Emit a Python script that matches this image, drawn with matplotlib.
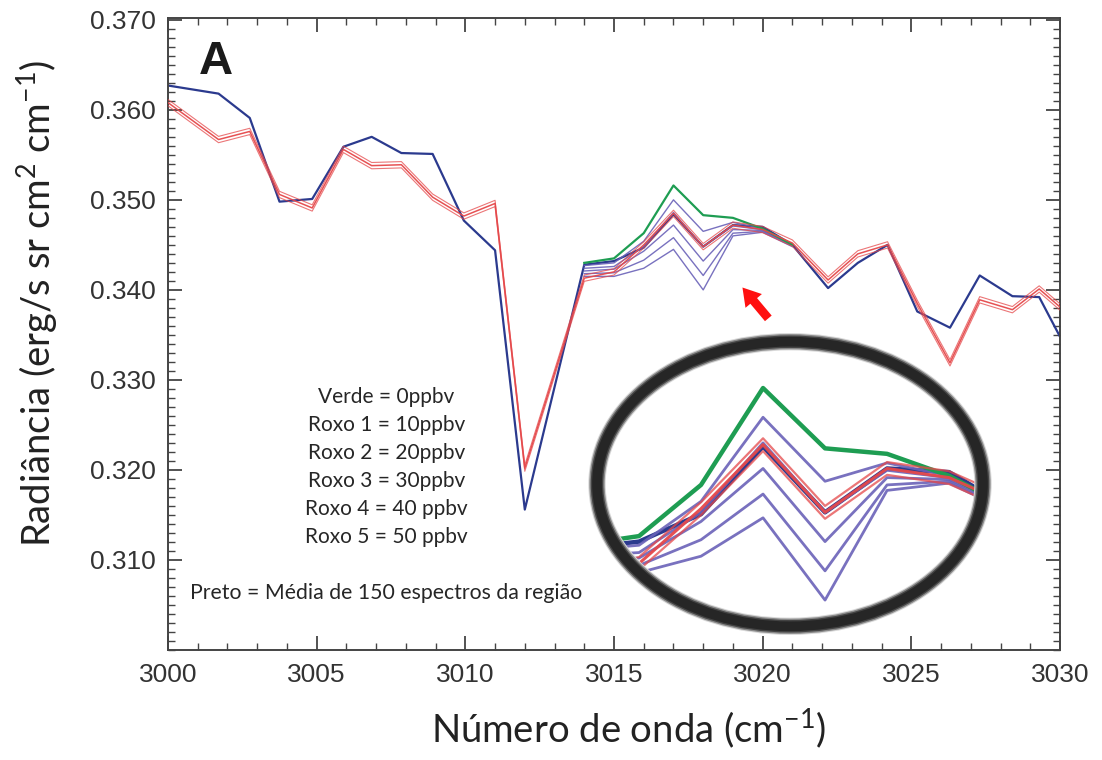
import numpy as np
import matplotlib
matplotlib.use("Agg")
from matplotlib import pyplot as plt
from matplotlib.patches import Ellipse
from matplotlib.ticker import MultipleLocator, FormatStrFormatter

# spectral grid (cm-1) shared by the mean spectrum and the model run
wavenumber = [3000.0, 3001.7, 3002.75, 3003.75, 3004.85, 3005.9, 3006.85, 3007.85,
              3008.9, 3009.95, 3011.0, 3012.0, 3014.0, 3015.0, 3016.0, 3017.0,
              3018.0, 3019.0, 3020.0, 3021.0, 3022.2, 3023.2, 3024.2, 3025.2,
              3026.3, 3027.3, 3028.4, 3029.3, 3030.0]

# mean of 150 observed spectra (drawn in dark blue)
preto = [0.3627, 0.3618, 0.3591, 0.3498, 0.3501, 0.3559, 0.3570, 0.3552,
         0.3551, 0.3477, 0.3444, 0.3156, 0.3428, 0.3432, 0.3447, 0.3484,
         0.3448, 0.3472, 0.3470, 0.3450, 0.3402, 0.3430, 0.3450, 0.3376,
         0.3358, 0.3416, 0.3393, 0.3392, 0.3348]

# simulated radiance, red bundle
modelo = [0.3608, 0.3567, 0.3576, 0.3506, 0.3491, 0.3556, 0.3538, 0.3539,
          0.3503, 0.3482, 0.3496, 0.3202, 0.3413, 0.3420, 0.3450, 0.3485,
          0.3448, 0.3472, 0.3467, 0.3452, 0.3411, 0.3440, 0.3450, 0.3385,
          0.3319, 0.3389, 0.3378, 0.3401, 0.3381]
modelo_spread = [-0.00035, 0.0, 0.00035]

# concentration runs only differ around the ethane band
wn_band = [3014.0, 3015.0, 3016.0, 3017.0, 3018.0, 3019.0, 3020.0, 3021.0]
verde = [0.3430, 0.3435, 0.3463, 0.3516, 0.3483, 0.3480, 0.3468, 0.3450]
roxo = [
    [0.3427, 0.3430, 0.3454, 0.3500, 0.3465, 0.3475, 0.3468, 0.3451],  # 10 ppbv
    [0.3424, 0.3426, 0.3448, 0.3486, 0.3448, 0.3471, 0.3467, 0.3450],  # 20 ppbv
    [0.3421, 0.3423, 0.3443, 0.3472, 0.3432, 0.3467, 0.3466, 0.3450],  # 30 ppbv
    [0.3418, 0.3419, 0.3433, 0.3458, 0.3416, 0.3463, 0.3465, 0.3449],  # 40 ppbv
    [0.3415, 0.3415, 0.3424, 0.3445, 0.3400, 0.3460, 0.3464, 0.3448],  # 50 ppbv
]

legenda = ["Verde = 0ppbv", "Roxo 1 = 10ppbv", "Roxo 2 = 20ppbv",
           "Roxo 3 = 30ppbv", "Roxo 4 = 40 ppbv", "Roxo 5 = 50 ppbv"]

c_navy = "#2b3a8e"
c_red = "#e5484a"
c_green = "#1e9d52"
c_purple = "#6a62b8"

plt.rcParams["mathtext.fontset"] = "custom"
plt.rcParams["mathtext.rm"] = "Lato"
plt.rcParams["mathtext.it"] = "Lato"

W, H = 1102, 760
fig = plt.figure(figsize=[W / 100, H / 100], dpi=100)
ax = fig.add_axes([168 / W, 110 / H, 892 / W, 632 / H])


def draw_lines(a, lw_scale=1.0, clip=None):
    arts = []
    arts += a.plot(wavenumber, preto, color=c_navy, lw=1.6 * lw_scale, zorder=2)
    for r in roxo:
        arts += a.plot(wn_band, r, color=c_purple, lw=1.0 * lw_scale, alpha=0.9, zorder=3)
    arts += a.plot(wn_band, verde, color=c_green, lw=1.6 * lw_scale, zorder=4)
    for d in modelo_spread:
        arts += a.plot(wavenumber, np.array(modelo) + d, color=c_red,
                       lw=(1.1 if d == 0 else 0.8) * lw_scale,
                       alpha=0.95 if d == 0 else 0.75, zorder=5)
    if clip is not None:
        for l in arts:
            l.set_clip_path(clip)
    return arts


draw_lines(ax)

ax.set_xlim(3000, 3030)
ax.set_ylim(0.300, 0.3702)
ax.set_xticks(np.arange(3000, 3031, 5))
ax.set_yticks(np.arange(0.310, 0.3705, 0.010))
ax.xaxis.set_minor_locator(MultipleLocator(1))
ax.yaxis.set_minor_locator(MultipleLocator(0.001))
ax.yaxis.set_major_formatter(FormatStrFormatter("%.3f"))
ax.tick_params(which="both", direction="in", top=True, right=True,
               colors="#444444", labelcolor="#333333")
ax.tick_params(which="major", length=10, width=1.3, labelsize=19, pad=9)
ax.tick_params(which="minor", length=5, width=1.0)
for lab in ax.get_xticklabels() + ax.get_yticklabels():
    lab.set_family("Liberation Sans")
for s in ax.spines.values():
    s.set_color("#444444")
    s.set_linewidth(1.4)

ax.set_ylabel(r"Radiância (erg/s sr cm$^{2}$ cm$^{-1}$)", family="Lato",
              fontsize=27.5, color="#222222")
ax.yaxis.set_label_coords(-0.146, 0.548)
ax.set_xlabel(r"Número de onda (cm$^{-1}$)", family="Lato", fontsize=27.5,
              color="#222222")
ax.xaxis.set_label_coords(0.516, -0.123)
ax.xaxis.label.set_va("center")
ax.yaxis.label.set_va("center")

ax.text(0.035, 0.93, "A", transform=ax.transAxes, family="Liberation Sans",
        fontsize=34, fontweight="bold", color="#1a1a1a", va="center")

# concentration key
for i, t in enumerate(legenda):
    ax.text(0.245, 0.400 - i * 0.0443, t, transform=ax.transAxes, ha="center",
            va="center", family="Lato", fontsize=15, color="#262626")
ax.text(0.245, 0.090, "Preto = Média de 150 espectros da região",
        transform=ax.transAxes, ha="center", va="center", family="Lato",
        fontsize=15.3, color="#262626")

ax.annotate("", xy=(3019.26, 0.3405), xytext=(3020.25, 0.3366),
            arrowprops=dict(arrowstyle="simple,head_width=1.1,head_length=0.9,tail_width=0.45",
                            color="#ff1010", lw=0, mutation_scale=14))

# magnified view of the band inside an oval
ax_in = fig.add_axes([590 / W, (H - 633) / H, 400 / W, 298 / H])
ax_in.set_xlim(3014.21, 3020.66)
ax_in.set_ylim(0.3382, 0.3545)
ax_in.axis("off")
oval = Ellipse((0.5, 0.5), 0.965, 0.955, transform=ax_in.transAxes,
               facecolor="white", edgecolor="none", zorder=0)
ax_in.add_patch(oval)
draw_lines(ax_in, lw_scale=2.0, clip=oval)
for lw, col in [(12.5, "#d8d8d8"), (11, "#8a8a8a"), (9, "#444444"), (7, "#262626")]:
    ax_in.add_patch(Ellipse((0.5, 0.5), 0.965, 0.955, transform=ax_in.transAxes,
                            facecolor="none", edgecolor=col, lw=lw,
                            zorder=10, clip_on=False))

fig.savefig("out.png", dpi=100)
